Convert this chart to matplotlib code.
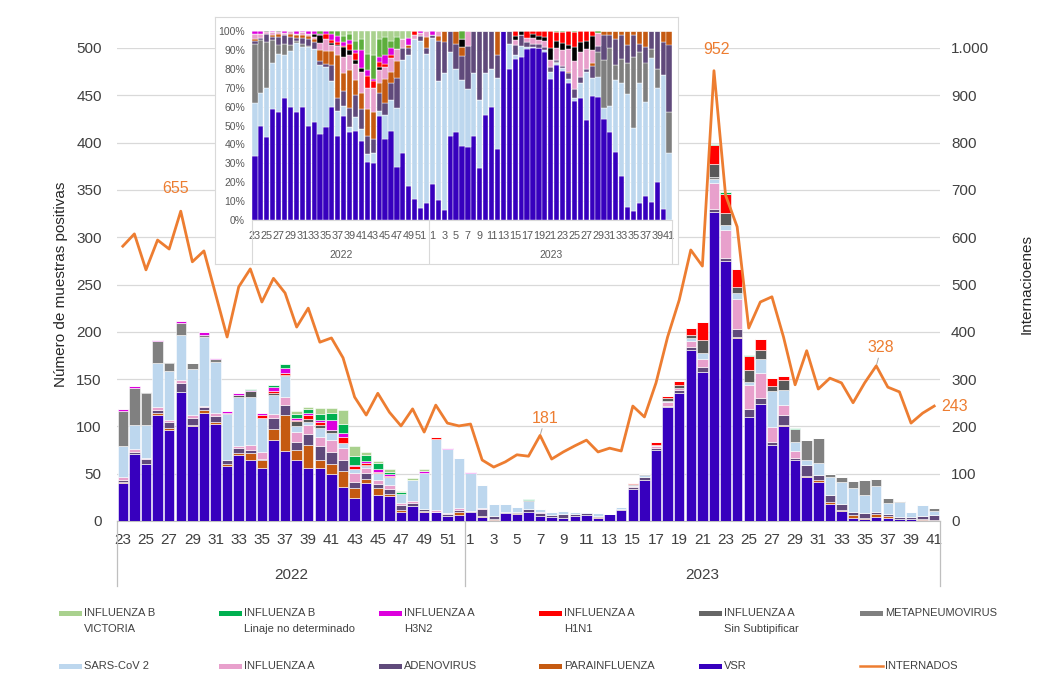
import matplotlib
matplotlib.use("Agg")
import matplotlib.pyplot as plt
import matplotlib.transforms as mtransforms
from matplotlib.patches import Rectangle
from matplotlib.lines import Line2D
import numpy as np

plt.rcParams['font.family'] = ['Liberation Sans', 'DejaVu Sans']

# semanas epidemiologicas: 2022 (23-52) y 2023 (1-41)
semanas_2022 = list(range(23, 53))
semanas_2023 = list(range(1, 42))
semanas = semanas_2022 + semanas_2023

vsr = [40, 71, 60, 112, 96, 136, 100, 114, 103, 58,
       70, 64, 56, 86, 74, 64, 56, 56, 50, 36,
       24, 40, 27, 26, 9, 16, 10, 10, 5, 6,
       10, 4, 1, 8, 7, 9, 5, 4, 3, 5,
       6, 3, 7, 12, 34, 43, 75, 120, 135, 181,
       157, 327, 275, 193, 110, 124, 80, 100, 64, 46,
       41, 18, 11, 3, 2, 4, 3, 2, 2, 1,
       0]
parainfluenza = [1, 0, 0, 2, 2, 0, 2, 3, 2, 2,
                 2, 8, 8, 11, 38, 11, 24, 9, 10, 17,
                 11, 4, 8, 3, 3, 0, 1, 0, 0, 4,
                 0, 1, 1, 0, 1, 1, 0, 0, 0, 0,
                 0, 1, 0, 0, 0, 0, 0, 0, 0, 0,
                 0, 0, 0, 2, 0, 0, 0, 2, 0, 2,
                 2, 2, 1, 3, 1, 3, 2, 0, 0, 1,
                 1]
adenovirus = [2, 2, 6, 3, 7, 10, 7, 4, 6, 4,
              5, 3, 2, 12, 11, 9, 12, 14, 13, 11,
              6, 7, 4, 5, 5, 3, 2, 0, 2, 2,
              1, 8, 3, 2, 2, 3, 3, 2, 4, 2,
              2, 1, 0, 1, 2, 3, 2, 2, 3, 3,
              6, 3, 3, 8, 8, 6, 3, 10, 3, 11,
              6, 7, 6, 4, 5, 2, 2, 2, 2, 3,
              5]
influenza_a = [3, 3, 1, 3, 2, 3, 3, 1, 3, 1,
               2, 5, 7, 4, 8, 10, 10, 10, 13, 13,
               10, 5, 4, 4, 2, 2, 0, 2, 1, 2,
               0, 1, 0, 0, 0, 0, 1, 0, 0, 0,
               0, 0, 0, 0, 1, 0, 2, 4, 3, 6,
               8, 27, 30, 32, 26, 26, 16, 11, 7, 0,
               0, 0, 0, 0, 0, 0, 0, 0, 0, 0,
               0]
sars_cov2 = [33, 25, 35, 47, 52, 48, 49, 73, 54, 48,
             52, 51, 36, 20, 22, 6, 3, 9, 7, 5,
             4, 2, 8, 9, 10, 22, 38, 75, 68, 53,
             40, 24, 13, 8, 5, 8, 4, 3, 4, 2,
             2, 3, 0, 2, 1, 3, 1, 1, 0, 3,
             7, 4, 5, 6, 3, 15, 38, 15, 10, 5,
             12, 19, 23, 25, 19, 28, 12, 16, 5, 12,
             5]
metapneumovirus = [37, 40, 33, 23, 8, 12, 6, 2, 3, 1,
                   0, 0, 0, 0, 0, 0, 0, 0, 0, 0,
                   0, 0, 0, 0, 0, 0, 0, 0, 0, 0,
                   0, 0, 0, 0, 0, 0, 0, 0, 0, 0,
                   0, 0, 0, 0, 0, 0, 0, 0, 0, 0,
                   0, 3, 0, 0, 0, 0, 0, 0, 13, 22,
                   27, 4, 6, 7, 16, 7, 5, 1, 1, 0,
                   3]
flu_a_sin_subtipificar = [0, 0, 1, 0, 1, 0, 0, 0, 0, 0,
                          2, 6, 0, 2, 1, 6, 3, 3, 3, 0,
                          0, 1, 0, 0, 0, 0, 0, 0, 0, 0,
                          0, 0, 0, 0, 0, 1, 0, 0, 0, 0,
                          0, 0, 0, 0, 1, 1, 0, 3, 3, 4,
                          13, 13, 13, 6, 13, 10, 6, 11, 0, 0,
                          0, 0, 0, 0, 0, 0, 0, 0, 0, 0,
                          0]
flu_a_h1n1 = [0, 0, 0, 0, 0, 0, 0, 0, 0, 0,
              0, 0, 3, 2, 2, 1, 4, 4, 0, 7,
              3, 2, 1, 1, 0, 0, 0, 2, 0, 0,
              0, 0, 0, 0, 0, 0, 0, 0, 0, 0,
              0, 0, 0, 0, 1, 0, 3, 2, 4, 7,
              19, 20, 20, 19, 14, 11, 8, 4, 0, 0,
              0, 0, 0, 0, 0, 0, 0, 0, 0, 0,
              0]
flu_a_h3n2 = [2, 2, 0, 1, 0, 2, 0, 3, 1, 2,
              2, 1, 2, 5, 6, 2, 2, 2, 11, 4,
              1, 2, 3, 2, 0, 0, 2, 0, 1, 0,
              1, 0, 0, 0, 0, 0, 0, 0, 0, 0,
              0, 0, 0, 0, 0, 0, 0, 0, 0, 0,
              0, 0, 0, 0, 0, 0, 0, 0, 0, 0,
              0, 0, 0, 0, 0, 0, 0, 0, 0, 0,
              0]
flu_b_no_det = [0, 0, 0, 0, 0, 0, 0, 0, 0, 0,
                0, 2, 0, 2, 4, 4, 4, 6, 7, 10,
                10, 7, 6, 2, 2, 0, 0, 0, 0, 0,
                0, 0, 0, 0, 0, 1, 0, 0, 0, 0,
                0, 0, 0, 0, 0, 0, 0, 0, 0, 0,
                0, 2, 2, 0, 1, 0, 0, 0, 1, 0,
                0, 0, 0, 0, 0, 0, 0, 0, 0, 0,
                0]
flu_b_victoria = [0, 0, 0, 0, 0, 0, 0, 0, 0, 0,
                  0, 0, 0, 0, 0, 3, 2, 6, 5, 14,
                  10, 3, 2, 3, 1, 2, 2, 0, 0, 0,
                  0, 0, 0, 0, 0, 0, 0, 0, 0, 0,
                  0, 0, 0, 0, 0, 0, 0, 0, 0, 0,
                  0, 0, 0, 0, 0, 0, 0, 0, 0, 0,
                  0, 0, 0, 0, 0, 0, 0, 0, 0, 0,
                  0]
internados = [581, 607, 531, 594, 575, 655, 548, 571, 480, 389,
              495, 533, 463, 513, 482, 410, 450, 378, 387, 345,
              262, 224, 270, 230, 201, 237, 188, 245, 207, 201,
              205, 129, 114, 125, 140, 137, 181, 131, 146, 159,
              171, 146, 154, 148, 243, 220, 292, 389, 467, 573,
              539, 952, 689, 622, 408, 463, 474, 389, 288, 360,
              279, 302, 292, 250, 292, 328, 283, 273, 207, 228,
              243]
etiquetas_internados = [5, 36, 51, 65, 70]

C_VSR = '#3700BE'
C_PARA = '#C55A11'
C_ADENO = '#604A7B'
C_FLUA = '#E8A0CC'
C_SARS = '#BDD7EE'
C_METAP = '#808080'
C_SINSUB = '#595959'
C_H1N1 = '#FF0000'
C_H3N2 = '#DD00DD'
C_BND = '#00B050'
C_BVIC = '#A9D18E'
C_LINE = '#ED7D31'

# orden de apilado del grafico principal (de abajo hacia arriba)
main_stack = [
    ('VSR', vsr, C_VSR),
    ('PARAINFLUENZA', parainfluenza, C_PARA),
    ('ADENOVIRUS', adenovirus, C_ADENO),
    ('INFLUENZA A', influenza_a, C_FLUA),
    ('SARS-CoV 2', sars_cov2, C_SARS),
    ('METAPNEUMOVIRUS', metapneumovirus, C_METAP),
    ('SIN SUBTIP', flu_a_sin_subtipificar, C_SINSUB),
    ('H1N1', flu_a_h1n1, C_H1N1),
    ('H3N2', flu_a_h3n2, C_H3N2),
    ('B ND', flu_b_no_det, C_BND),
    ('B VIC', flu_b_victoria, C_BVIC),
]
# orden del grafico 100% (recuadro)
inset_stack = [
    (vsr, C_VSR), (sars_cov2, C_SARS), (metapneumovirus, '#7F7F7F'),
    (adenovirus, C_ADENO), (parainfluenza, C_PARA), (influenza_a, C_FLUA),
    (flu_a_sin_subtipificar, '#000000'), (flu_a_h1n1, C_H1N1),
    (flu_a_h3n2, C_H3N2), (flu_b_no_det, '#5DAE3C'), (flu_b_victoria, C_BVIC),
]

W, H = 1051, 698
fig = plt.figure(figsize=(W / 100, H / 100), dpi=100)
x = np.arange(len(semanas))
n_2022 = len(semanas_2022)

ax = fig.add_axes([117 / W, 1 - 521 / H, (940 - 117) / W, (521 - 48) / H])
bottom = np.zeros(len(x))
for name, vals, color in main_stack:
    vals = np.array(vals, dtype=float)
    ax.bar(x, vals, 0.9, bottom=bottom, color=color, edgecolor='white', linewidth=0.4, zorder=3)
    bottom += vals
ax.set_xlim(-0.5, len(x) - 0.5)
ax.set_ylim(0, 500)
ax.set_yticks(range(0, 501, 50))
ax.grid(axis='y', color='#D9D9D9', lw=0.9, zorder=0)
for s in ['top', 'left', 'right']:
    ax.spines[s].set_visible(False)
ax.spines['bottom'].set_color('#BFBFBF')
ax.tick_params(axis='y', length=0, pad=11, labelsize=11, labelcolor='#404040')
ticks = [i for i, w in enumerate(semanas) if w % 2 == 1]
ax.set_xticks(ticks, [str(semanas[i]) for i in ticks])
ax.tick_params(axis='x', length=0, pad=9, labelsize=11, labelcolor='#404040')
ax.set_ylabel('Número de muestras positivas', fontsize=11, color='#262626')
ax.yaxis.set_label_coords(-0.06, 0.5)

trans = mtransforms.blended_transform_factory(ax.transData, ax.transAxes)
for xs in [-0.5, n_2022 - 0.5, len(x) - 0.5]:
    ax.plot([xs, xs], [0, -(586 - 521) / 473], transform=trans, color='#BFBFBF', lw=0.9, clip_on=False)
ax.text((n_2022 - 1) / 2, -(575 - 521) / 473, '2022', transform=trans, ha='center', va='center', fontsize=11, color='#404040')
ax.text((n_2022 + len(x) - 1) / 2, -(575 - 521) / 473, '2023', transform=trans, ha='center', va='center', fontsize=11, color='#404040')

ax2 = ax.twinx()
ax2.plot(x, internados, color=C_LINE, lw=2.0, zorder=4)
ax2.set_ylim(0, 1000)
ax2.set_yticks(range(0, 1001, 100))
ax2.set_yticklabels([f'{v:,}'.replace(',', '.') for v in range(0, 1001, 100)])
for s in ax2.spines.values():
    s.set_visible(False)
ax2.tick_params(axis='y', length=0, pad=8, labelsize=11, labelcolor='#404040')
ax2.set_ylabel('Internacioenes', fontsize=11, color='#262626')
ax2.yaxis.set_label_coords(1.097, 0.5)

offsets = {5: (-5, 23), 36: (5, 17), 51: (3, 21), 65: (5, 18), 70: (20, 0)}
for i in etiquetas_internados:
    dx, dy = offsets[i]
    arrow = None
    if i in (36, 65):
        arrow = dict(arrowstyle='-', color='#A6A6A6', lw=0.7, shrinkA=0, shrinkB=1)
    ax2.annotate(str(internados[i]), xy=(i, internados[i]), xytext=(dx, dy),
                 textcoords='offset pixels', ha='center', va='center',
                 fontsize=11.5, color=C_LINE, arrowprops=arrow)

# recuadro con distribucion porcentual
frame = fig.add_axes([215 / W, 1 - 264 / H, (678 - 215) / W, (264 - 17) / H])
frame.set_xticks([])
frame.set_yticks([])
for s in frame.spines.values():
    s.set_color('#D9D9D9')
frame.set_zorder(5)

iax = fig.add_axes([252 / W, 1 - 220 / H, (672 - 252) / W, (220 - 31) / H])
iax.set_zorder(6)
totals = np.sum([np.array(v, dtype=float) for v, c in inset_stack], axis=0)
ib = np.zeros(len(x))
for vals, color in inset_stack:
    frac = np.array(vals, dtype=float) / totals
    iax.bar(x, frac, 0.88, bottom=ib, color=color, edgecolor='white', linewidth=0.3, zorder=3)
    ib += frac
iax.set_xlim(-0.5, len(x) - 0.5)
iax.set_ylim(0, 1)
iax.set_yticks(np.arange(0, 1.01, 0.1))
iax.set_yticklabels([f'{int(round(v * 100))}%' for v in np.arange(0, 1.01, 0.1)])
iax.grid(axis='y', color='#EDEDED', lw=0.6, zorder=0)
for s in ['top', 'left', 'right']:
    iax.spines[s].set_visible(False)
iax.spines['bottom'].set_color('#D9D9D9')
iax.tick_params(axis='y', length=0, pad=5, labelsize=7.5, labelcolor='#595959')
iax.set_xticks(ticks, [str(semanas[i]) for i in ticks])
iax.tick_params(axis='x', length=0, pad=8, labelsize=7.8, labelcolor='#595959')
itrans = mtransforms.blended_transform_factory(iax.transData, iax.transAxes)
for xs in [-0.5, n_2022 - 0.5, len(x) - 0.5]:
    iax.plot([xs, xs], [0, -(263 - 220) / 189], transform=itrans, color='#D9D9D9', lw=0.8, clip_on=False)
iax.text((n_2022 - 1) / 2, -(255 - 220) / 189, '2022', transform=itrans, ha='center', va='center', fontsize=7.5, color='#595959')
iax.text((n_2022 + len(x) - 1) / 2, -(255 - 220) / 189, '2023', transform=itrans, ha='center', va='center', fontsize=7.5, color='#595959')

# leyenda
legend_items = [
    (59, 613, 'INFLUENZA B\nVICTORIA', C_BVIC, 'box'),
    (219, 613, 'INFLUENZA B\nLinaje no determinado', C_BND, 'box'),
    (379, 613, 'INFLUENZA A\nH3N2', C_H3N2, 'box'),
    (539, 613, 'INFLUENZA A\nH1N1', C_H1N1, 'box'),
    (699, 613, 'INFLUENZA A\nSin Subtipificar', '#666666', 'box'),
    (860, 613, 'METAPNEUMOVIRUS', C_METAP, 'box'),
    (59, 666, 'SARS-CoV 2', C_SARS, 'box'),
    (219, 666, 'INFLUENZA A', C_FLUA, 'box'),
    (379, 666, 'ADENOVIRUS', C_ADENO, 'box'),
    (539, 666, 'PARAINFLUENZA', C_PARA, 'box'),
    (699, 666, 'VSR', C_VSR, 'box'),
    (860, 666, 'INTERNADOS', C_LINE, 'line'),
]
for lx, ly, label, color, kind in legend_items:
    if kind == 'box':
        fig.add_artist(Rectangle((lx / W, 1 - (ly + 2.5) / H), 23 / W, 5 / H,
                                 transform=fig.transFigure, color=color, lw=0))
    else:
        fig.add_artist(Line2D([lx / W, (lx + 23) / W], [1 - ly / H, 1 - ly / H],
                              transform=fig.transFigure, color=color, lw=1.8))
    for k, part in enumerate(label.split('\n')):
        fig.text((lx + 25) / W, 1 - (ly + 16 * k) / H, part, ha='left', va='center',
                 fontsize=8, color='#404040')

fig.savefig('out.png', dpi=100)
